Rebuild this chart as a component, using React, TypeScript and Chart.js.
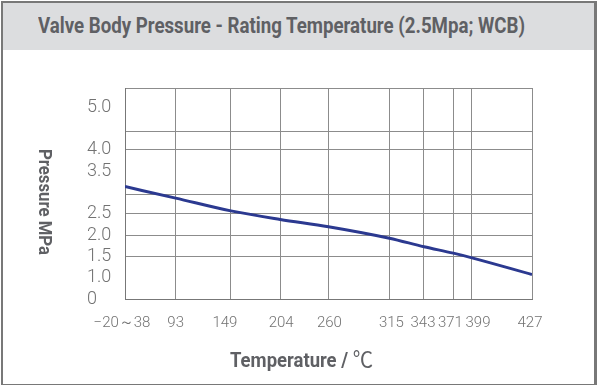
import React, { useEffect, useRef } from 'react';
import { Chart, registerables, LinearScale } from 'chart.js';

// ---- data ----
const temperatures = [38, 93, 149, 204, 260, 315, 343, 371, 399, 427];
const xTickLabels = ['−20～38', '93', '149', '204', '260', '315', '343', '371', '399', '427'];
const pressures = [3.14, 2.87, 2.57, 2.37, 2.2, 1.93, 1.73, 1.58, 1.47, 1.08];
const yTickValues = [0, 1.0, 1.5, 2.0, 2.5, 3.5, 4.0, 5.0];
const yTickLabels = ['0', '1.0', '1.5', '2.0', '2.5', '3.5', '4.0', '5.0'];
const yGridValues = [0, 1.5, 2.0, 2.5, 2.96, 4.0, 4.42, 5.45];
const yMax = 5.45;

// ---- styling: small pixel nudges of x tick labels (label placement only) ----
const xLabelNudge = [-3, 0, -6, 1, 1, 2, -1, -3, 6, -2];

// ---- non-uniform axis layout (fraction of axis length at each break value) ----
const X_MAP = {
  values: temperatures,
  fractions: [0, 0.1245, 0.2602, 0.3813, 0.4999, 0.6497, 0.7346, 0.8068, 0.8525, 1],
};
const AXIS_MAPS: Record<string, { values: number[]; fractions: number[] }> = {
  x: X_MAP,
  xl: X_MAP,
  y: { values: [0, 1, yMax], fractions: [0, 0.1, 1] },
};

function toDecimal(map: { values: number[]; fractions: number[] }, v: number) {
  const { values, fractions } = map;
  const n = values.length;
  let i = 0;
  if (v <= values[0]) i = 0;
  else if (v >= values[n - 1]) i = n - 2;
  else {
    while (i < n - 2 && v > values[i + 1]) i++;
  }
  const t = (v - values[i]) / (values[i + 1] - values[i]);
  return fractions[i] + t * (fractions[i + 1] - fractions[i]);
}

function fromDecimal(map: { values: number[]; fractions: number[] }, d: number) {
  const { values, fractions } = map;
  const n = values.length;
  let i = 0;
  if (d <= fractions[0]) i = 0;
  else if (d >= fractions[n - 1]) i = n - 2;
  else {
    while (i < n - 2 && d > fractions[i + 1]) i++;
  }
  const t = (d - fractions[i]) / (fractions[i + 1] - fractions[i]);
  return values[i] + t * (values[i + 1] - values[i]);
}

class PiecewiseScale extends LinearScale {
  static id = 'piecewise';
  static defaults = LinearScale.defaults;
  getPixelForValue(value: number) {
    if (value === null || value === undefined || isNaN(value)) return NaN;
    return this.getPixelForDecimal(toDecimal(AXIS_MAPS[this.id], value));
  }
  getValueForPixel(pixel: number) {
    return fromDecimal(AXIS_MAPS[this.id], this.getDecimalForPixel(pixel));
  }
}

class NudgedLabelScale extends PiecewiseScale {
  static id = 'nudgedLabels';
  static defaults = LinearScale.defaults;
  getPixelForTick(index: number) {
    return super.getPixelForTick(index) + (xLabelNudge[index] || 0);
  }
}

Chart.register(...registerables, PiecewiseScale, NudgedLabelScale);

const LIGHT = 'Roboto, "Liberation Sans", sans-serif';
const TICK_COLOR = '#727272';
const GRID_COLOR = '#8c8c8c';

export default function App() {
  const ref = useRef<HTMLCanvasElement | null>(null);
  const titleRef = useRef<HTMLDivElement | null>(null);
  const xTitleRef = useRef<HTMLDivElement | null>(null);
  const yTitleRef = useRef<HTMLDivElement | null>(null);

  useEffect(() => {
    // fit the condensed-looking texts to their boxes
    const fit = () => {
      const t = titleRef.current;
      if (t) {
        t.style.transform = 'none';
        const w = t.getBoundingClientRect().width;
        t.style.transform = `scaleX(${487 / w})`;
      }
      const xt = xTitleRef.current;
      if (xt) {
        xt.style.transform = 'none';
        const w = xt.getBoundingClientRect().width;
        xt.style.transform = `scaleX(${143 / w})`;
      }
      const yt = yTitleRef.current;
      if (yt) {
        yt.style.transform = 'none';
        const h = yt.getBoundingClientRect().height;
        yt.style.transform = `scaleY(${106 / h})`;
      }
    };
    fit();
    if ((document as any).fonts && (document as any).fonts.ready) {
      (document as any).fonts.ready.then(fit);
    }

    if (!ref.current) return;
    const allY = Array.from(new Set([...yTickValues, ...yGridValues, yMax])).sort((a, b) => a - b);
    const chart = new Chart(ref.current, {
      type: 'line',
      data: {
        datasets: [
          {
            data: temperatures.map((t, i) => ({ x: t, y: pressures[i] })),
            xAxisID: 'x',
            yAxisID: 'y',
            borderColor: '#2b3990',
            borderWidth: 3,
            pointRadius: 0,
            cubicInterpolationMode: 'monotone',
            fill: false,
          },
        ],
      },
      options: {
        animation: false,
        responsive: false,
        events: [],
        layout: { padding: { left: 87, right: 67, top: 88, bottom: 46 } },
        plugins: { legend: { display: false }, tooltip: { enabled: false }, title: { display: false } },
        scales: {
          x: {
            type: 'piecewise' as any,
            position: 'bottom',
            min: 38,
            max: 427,
            afterBuildTicks: (scale: any) => {
              scale.ticks = temperatures.map((v) => ({ value: v }));
            },
            afterFit: (scale: any) => {
              scale.height = 0;
            },
            ticks: { display: false, autoSkip: false },
            grid: { color: GRID_COLOR, lineWidth: 1, drawTicks: false },
            border: { display: true, color: '#777777', width: 1 },
          },
          xl: {
            type: 'nudgedLabels' as any,
            position: 'bottom',
            min: 38,
            max: 427,
            afterBuildTicks: (scale: any) => {
              scale.ticks = temperatures.map((v) => ({ value: v }));
            },
            afterFit: (scale: any) => {
              scale.height = 40;
            },
            ticks: {
              autoSkip: false,
              maxRotation: 0,
              minRotation: 0,
              padding: 15,
              color: TICK_COLOR,
              font: { family: LIGHT, size: 15, weight: '300' as any },
              callback: (_v: any, i: number) => xTickLabels[i],
            },
            grid: { display: false, drawTicks: false },
            border: { display: false },
          },
          y: {
            type: 'piecewise' as any,
            min: 0,
            max: yMax,
            afterBuildTicks: (scale: any) => {
              scale.ticks = allY.map((v) => ({ value: v }));
            },
            afterFit: (scale: any) => {
              scale.width = 38;
            },
            ticks: {
              autoSkip: false,
              crossAlign: 'far',
              padding: 12,
              color: TICK_COLOR,
              font: { family: LIGHT, size: 18, weight: '300' as any },
              callback: (v: any) => {
                const idx = yTickValues.indexOf(Number(v));
                return idx >= 0 ? yTickLabels[idx] : '';
              },
            },
            grid: {
              drawTicks: false,
              lineWidth: 1,
              color: (ctx: any) =>
                ctx.tick && yGridValues.includes(ctx.tick.value) ? GRID_COLOR : 'rgba(0,0,0,0)',
            },
            border: { display: true, color: '#777777', width: 1 },
          },
        },
      },
    });
    return () => chart.destroy();
  }, []);

  const boldFont = 'Roboto, "DejaVu Sans Condensed", sans-serif';

  return (
    <div
      style={{
        position: 'fixed',
        left: 0,
        top: 0,
        width: 599,
        height: 385,
        background: '#ffffff',
        overflow: 'hidden',
      }}
    >
      <canvas ref={ref} width={599} height={385} style={{ position: 'absolute', left: 0, top: 0, width: 599, height: 385 }} />
      <div
        style={{
          position: 'absolute',
          left: 3,
          top: 3,
          width: 591,
          height: 47,
          background: '#dcdddf',
        }}
      />
      <div
        ref={titleRef}
        style={{
          position: 'absolute',
          left: 38,
          top: 12,
          fontFamily: boldFont,
          fontWeight: 700,
          fontSize: 22,
          lineHeight: '28px',
          color: '#5f6064',
          whiteSpace: 'nowrap',
          transformOrigin: 'left center',
        }}
      >
        Valve Body Pressure - Rating Temperature (2.5Mpa; WCB)
      </div>
      <div
        ref={yTitleRef}
        style={{
          position: 'absolute',
          left: 34,
          top: 149,
          writingMode: 'vertical-rl',
          fontFamily: boldFont,
          fontWeight: 700,
          fontSize: 19,
          lineHeight: '22px',
          color: '#5f6064',
          whiteSpace: 'nowrap',
          transformOrigin: 'center top',
        }}
      >
        Pressure MPa
      </div>
      <div
        ref={xTitleRef}
        style={{
          position: 'absolute',
          left: 230,
          top: 344,
          fontFamily: boldFont,
          fontWeight: 700,
          fontSize: 20,
          lineHeight: '26px',
          color: '#5f6064',
          whiteSpace: 'nowrap',
          transformOrigin: 'left center',
        }}
      >
        Temperature /{' '}
        <span style={{ fontWeight: 400, fontFamily: '"Noto Sans CJK SC", sans-serif', fontSize: 22 }}>℃</span>
      </div>
      <div
        style={{
          position: 'absolute',
          left: 1,
          top: 1,
          width: 596,
          height: 386,
          boxSizing: 'border-box',
          borderStyle: 'solid',
          borderColor: '#787878',
          borderWidth: '2px 3px 3px 2px',
          pointerEvents: 'none',
        }}
      />
    </div>
  );
}
